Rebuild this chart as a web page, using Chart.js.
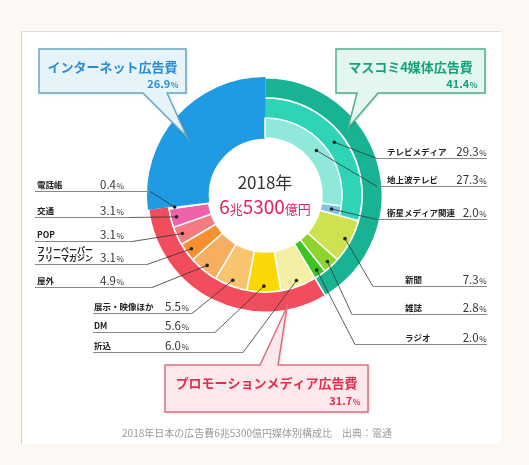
<!DOCTYPE html>
<html>
<head>
<meta charset="utf-8">
<script src="https://cdn.jsdelivr.net/npm/chart.js@4.4.1/dist/chart.umd.min.js"></script>
<style>
body{margin:0;background:#fdf8f3;font-family:"Noto Sans CJK JP",sans-serif;}
#wrap{position:relative;width:529px;height:465px;overflow:hidden}
#panel{position:absolute;left:21px;top:31px;width:479px;height:412px;background:#fff;border-left:1px solid #cfcfcf;border-top:1px solid #dedede}
canvas{position:absolute;left:0;top:0}
</style>
</head>
<body>
<div id="wrap">
  <div id="panel"></div>
  <canvas id="ring" width="529" height="465"></canvas>
  <canvas id="tv" width="529" height="465"></canvas>
</div>
<script>
// data (%)
var mainLabels = ['マスコミ4媒体広告費', 'プロモーションメディア広告費', 'インターネット広告費'];
var mainValues = [41.4, 31.7, 26.9];
var subLabels = ['テレビメディア', '新聞', '雑誌', 'ラジオ', '折込', 'DM', '展示・映像ほか', '屋外',
  'フリーペーパー\nフリーマガジン', 'POP', '交通', '電話帳', 'インターネット'];
var subValues = [29.3, 7.3, 2.8, 2.0, 6.0, 5.6, 5.5, 4.9, 3.1, 3.1, 3.1, 0.4, 26.9];
var tvLabels = ['地上波テレビ', '衛星メディア関連'];
var tvValues = [27.3, 2.0];
var centerYear = '2018年';

// styles
var BLUE = '#1e9be3';
var mainColors = ['#17b393', '#f24d5c', BLUE];
var subColors = ['#2fd3b6', '#cde24e', '#8fd42c', '#3ac520', '#f3f0a6', '#fbd705', '#f8c46e', '#f6ae62',
  '#f7912f', '#f57b80', '#f062a8', '#fbd9e6', BLUE];
var tvColors = ['#8fe8d9', '#7ec3e0'];
var CLEAR = 'rgba(0,0,0,0)';
var FONT = '"Noto Sans CJK JP"';

var sum = function (a) { return a.reduce(function (s, v) { return s + v; }, 0); };
var tvRest = sum(subValues) - sum(tvValues);

function opts() {
  return {
    responsive: false,
    animation: false,
    events: [],
    cutout: '48.6%',
    layout: { padding: { left: 147, top: 77, right: 146, bottom: 152 } },
    plugins: { legend: { display: false }, tooltip: { enabled: false } }
  };
}

var ringChart = new Chart(document.getElementById('ring'), {
  type: 'doughnut',
  data: {
    labels: subLabels,
    datasets: [
      { data: mainValues, backgroundColor: mainColors, borderColor: ['#fff', '#fff', BLUE],
        borderWidth: 1.5, hoverOffset: 0, weight: 1 },
      { data: subValues, backgroundColor: subColors,
        borderColor: subColors.map(function (c) { return c === BLUE ? BLUE : '#fff'; }),
        borderWidth: 1.5, hoverOffset: 0, weight: 2 }
    ]
  },
  options: opts()
});

// label layout
var leftTags = [
  { i: 11, y: 191, x1: 35, x2: 150, nx: 37, vx: 100 },
  { i: 10, y: 217, x1: 35, x2: 130, nx: 37, vx: 100 },
  { i: 9, y: 241, x1: 35, x2: 132, nx: 37, vx: 100 },
  { i: 8, y: 264, x1: 35, x2: 147, nx: 37, vx: 100 },
  { i: 7, y: 287, x1: 35, x2: 152, nx: 37, vx: 100 },
  { i: 6, y: 313, x1: 93, x2: 192, nx: 94, vx: 165 },
  { i: 5, y: 332, x1: 93, x2: 215, nx: 94, vx: 165 },
  { i: 4, y: 352, x1: 93, x2: 243, nx: 94, vx: 165 }
];
var rightTags = [
  { tv: -1, i: 0, y: 158, x1: 377, nx: 387 },
  { tv: 0, y: 186, x1: 377, nx: 387 },
  { tv: 1, y: 219, x1: 377, nx: 387 },
  { tv: -1, i: 1, y: 286, x1: 373, nx: 405 },
  { tv: -1, i: 2, y: 314, x1: 352, nx: 405 },
  { tv: -1, i: 3, y: 344, x1: 355, nx: 405 }
];

function dotAt(arc, frac) {
  var p = arc.getProps(['x', 'y', 'startAngle', 'endAngle', 'innerRadius', 'outerRadius']);
  var a = (p.startAngle + p.endAngle) / 2;
  var r = p.innerRadius + frac * (p.outerRadius - p.innerRadius);
  return { x: p.x + Math.cos(a) * r, y: p.y + Math.sin(a) * r };
}

function drawValue(ctx, v, x, y, alignRight) {
  var num = v.toFixed(1);
  ctx.font = '11.5px ' + FONT;
  var w1 = ctx.measureText(num).width;
  ctx.font = '8px ' + FONT;
  var w2 = ctx.measureText('%').width;
  var sx = alignRight ? x - w1 - w2 : x;
  ctx.textAlign = 'left';
  ctx.font = '11.5px ' + FONT;
  ctx.fillText(num, sx, y);
  ctx.font = '8px ' + FONT;
  ctx.fillText('%', sx + w1 + 0.5, y);
}

function leader(ctx, d, ex, ey, ux1, ux2) {
  ctx.strokeStyle = '#888';
  ctx.lineWidth = 1;
  ctx.beginPath();
  ctx.moveTo(ux1, ey + 0.5);
  ctx.lineTo(ux2, ey + 0.5);
  ctx.stroke();
  ctx.strokeStyle = '#333';
  ctx.lineWidth = 0.8;
  ctx.beginPath();
  ctx.moveTo(d.x, d.y);
  ctx.lineTo(ex, ey + 0.5);
  ctx.stroke();
  ctx.fillStyle = '#222';
  ctx.beginPath();
  ctx.arc(d.x, d.y, 1.8, 0, Math.PI * 2);
  ctx.fill();
}

function bubble(ctx, b) {
  var x = b.x, y = b.y, w = b.w, h = b.h;
  ctx.save();
  ctx.beginPath();
  ctx.moveTo(x, y);
  if (b.side === 'top') {
    ctx.lineTo(b.t1, y); ctx.lineTo(b.tip[0], b.tip[1]); ctx.lineTo(b.t2, y);
  }
  ctx.lineTo(x + w, y);
  ctx.lineTo(x + w, y + h);
  if (b.side === 'bottom') {
    ctx.lineTo(b.t2, y + h); ctx.lineTo(b.tip[0], b.tip[1]); ctx.lineTo(b.t1, y + h);
  }
  ctx.lineTo(x, y + h);
  ctx.closePath();
  ctx.shadowColor = 'rgba(0,0,0,0.18)';
  ctx.shadowBlur = 3;
  ctx.shadowOffsetX = 1;
  ctx.shadowOffsetY = 1;
  ctx.fillStyle = b.fill;
  ctx.fill();
  ctx.shadowColor = CLEAR;
  ctx.strokeStyle = b.stroke;
  ctx.lineWidth = 1.5;
  ctx.stroke();
  ctx.fillStyle = b.color;
  ctx.textAlign = 'center';
  ctx.textBaseline = 'alphabetic';
  ctx.font = 'bold 13px ' + FONT;
  ctx.fillText(b.title, x + w / 2, y + b.ty);
  ctx.font = 'bold 11px ' + FONT;
  var num = b.value.toFixed(1);
  var wn = ctx.measureText(num).width;
  ctx.font = 'bold 8px ' + FONT;
  var wp = ctx.measureText('%').width;
  ctx.textAlign = 'left';
  var sx = x + w - 8 - wn - wp;
  ctx.font = 'bold 11px ' + FONT;
  ctx.fillText(num, sx, y + b.vy);
  ctx.font = 'bold 8px ' + FONT;
  ctx.fillText('%', sx + wn + 0.5, y + b.vy);
  ctx.restore();
}

var labelPlugin = {
  id: 'labels',
  afterDraw: function (chart) {
    var ctx = chart.ctx;
    var body = ringChart.getDatasetMeta(1).data;
    var inner = chart.getDatasetMeta(2).data;
    ctx.save();
    ctx.textBaseline = 'alphabetic';

    leftTags.forEach(function (t) {
      var d = dotAt(body[t.i], 0.85);
      leader(ctx, d, t.x2, t.y, t.x1, t.x2);
      ctx.fillStyle = '#222';
      ctx.textAlign = 'left';
      var lines = subLabels[t.i].split('\n');
      if (lines.length > 1) {
        ctx.font = 'bold 8px ' + FONT;
        ctx.fillText(lines[0], t.nx, t.y - 11);
        ctx.fillText(lines[1], t.nx, t.y - 3);
      } else {
        ctx.font = 'bold 8.5px ' + FONT;
        ctx.fillText(lines[0], t.nx, t.y - 3);
      }
      ctx.fillStyle = '#333';
      drawValue(ctx, subValues[t.i], t.vx, t.y - 2, false);
    });

    rightTags.forEach(function (t) {
      var d, name, v;
      if (t.tv < 0) {
        d = dotAt(body[t.i], t.i === 0 ? 0.75 : 0.85);
        name = subLabels[t.i]; v = subValues[t.i];
      } else {
        d = dotAt(inner[t.tv], 0.55);
        name = tvLabels[t.tv]; v = tvValues[t.tv];
      }
      leader(ctx, d, t.x1, t.y, t.x1, 487);
      ctx.fillStyle = '#222';
      ctx.textAlign = 'left';
      ctx.font = 'bold 8.5px ' + FONT;
      ctx.fillText(name, t.nx, t.y - 3);
      ctx.fillStyle = '#333';
      drawValue(ctx, v, 486, t.y - 2, true);
    });

    // center text
    var c = body[0].getProps(['x', 'y']);
    ctx.fillStyle = '#333';
    ctx.textAlign = 'center';
    ctx.font = '17px ' + FONT;
    ctx.fillText(centerYear, c.x, c.y - 6);
    var parts = [['6', 19], ['兆', 13], ['5300', 19], ['億円', 13]];
    var total = 0;
    parts.forEach(function (p) { ctx.font = p[1] + 'px ' + FONT; total += ctx.measureText(p[0]).width; });
    var px = c.x - total / 2;
    ctx.fillStyle = '#e0245e';
    ctx.textAlign = 'left';
    parts.forEach(function (p) {
      ctx.font = p[1] + 'px ' + FONT;
      ctx.fillText(p[0], px, c.y + 19);
      px += ctx.measureText(p[0]).width;
    });

    // callouts
    bubble(ctx, { x: 39, y: 49, w: 147, h: 44, side: 'bottom', t1: 143, t2: 167, tip: [187, 137],
      fill: '#e6f4fa', stroke: '#6aa8c0', color: '#2a8dd4', title: mainLabels[2], value: mainValues[2], ty: 23, vy: 39 });
    bubble(ctx, { x: 336, y: 49, w: 149, h: 44, side: 'bottom', t1: 357, t2: 378, tip: [348, 128],
      fill: '#e3f6ef', stroke: '#52ae8e', color: '#13a37a', title: mainLabels[0], value: mainValues[0], ty: 23, vy: 39 });
    bubble(ctx, { x: 165, y: 365, w: 203, h: 47, side: 'top', t1: 260, t2: 278, tip: [287, 307],
      fill: '#fde9ec', stroke: '#de6f7c', color: '#e0304e', title: mainLabels[1], value: mainValues[1], ty: 23, vy: 40 });

    // caption
    ctx.fillStyle = '#9a9a9a';
    ctx.textAlign = 'center';
    ctx.font = '10px ' + FONT;
    ctx.fillText('2018年日本の広告費6兆5300億円媒体別構成比　出典：電通', 257, 437);
    ctx.restore();
  }
};

// overlay: only the innermost ring (TV split), the two outer rings left empty
var spacer = { data: [1], backgroundColor: CLEAR, borderColor: CLEAR, borderWidth: 1.5, hoverOffset: 0, weight: 1 };
var tvChart = new Chart(document.getElementById('tv'), {
  type: 'doughnut',
  data: {
    labels: tvLabels.concat(['']),
    datasets: [
      spacer,
      Object.assign({}, spacer),
      { data: tvValues.concat([tvRest]), backgroundColor: tvColors.concat([CLEAR]),
        borderColor: ['#fff', '#fff', CLEAR], borderWidth: [1.5, 1.5, 0], hoverOffset: 0, weight: 1 }
    ]
  },
  options: opts(),
  plugins: [labelPlugin]
});
</script>
</body>
</html>
